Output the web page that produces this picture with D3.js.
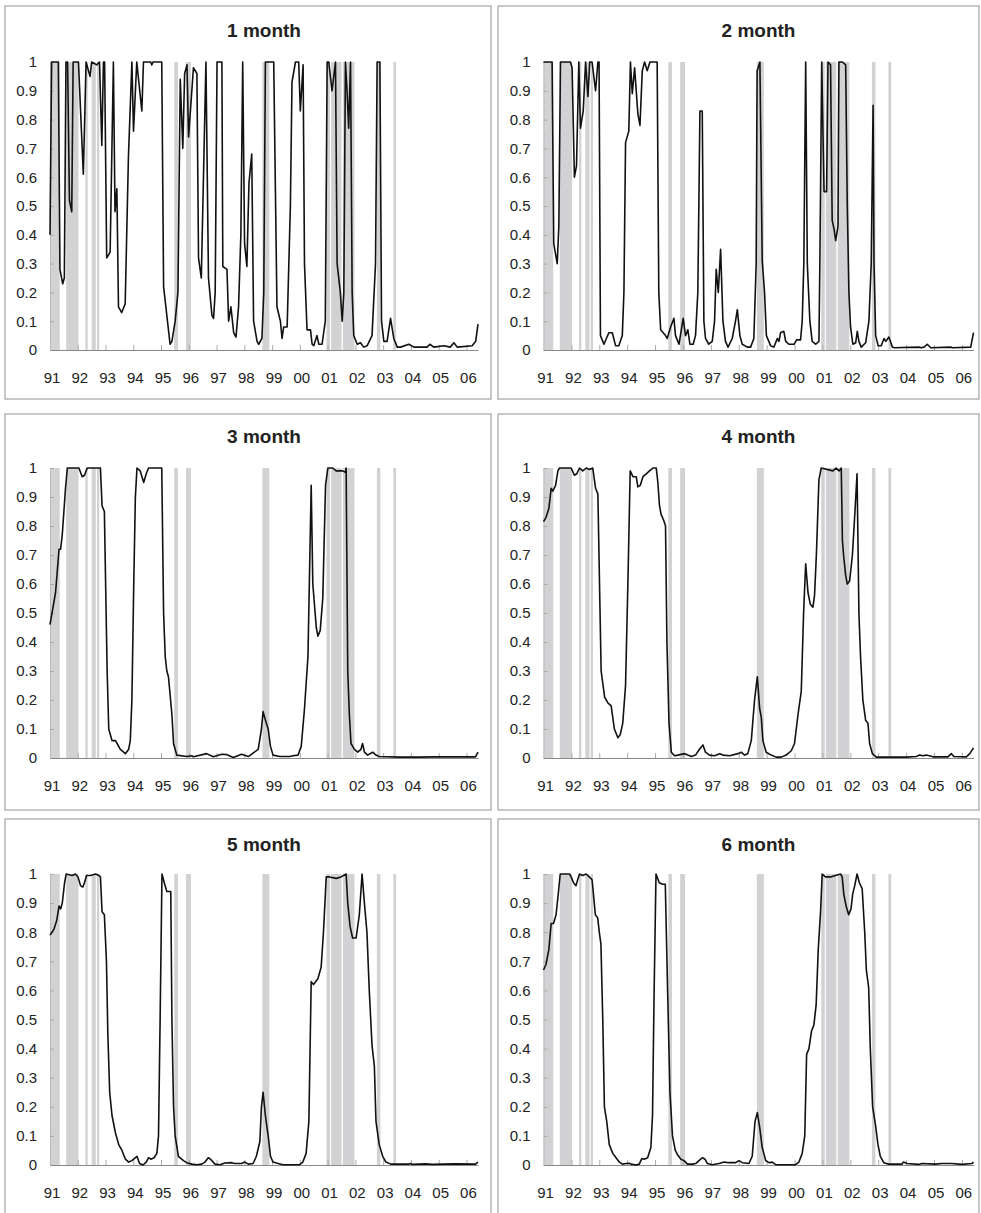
<!DOCTYPE html>
<html>
<head>
<meta charset="utf-8">
<script src="https://cdn.jsdelivr.net/npm/d3@7"></script>
<style>
  body { margin: 0; background: #fff; }
  text { font-family: "Liberation Sans", Arial, Helvetica, sans-serif; fill: #222; }
</style>
</head>
<body>
<div id="holder"></div>
<script>
// x axis: months since Jan 1991, labels one per year
var years = ["91","92","93","94","95","96","97","98","99","00","01","02","03","04","05","06"];
var nMonths = 186;
var yTicks = [0, 0.1, 0.2, 0.3, 0.4, 0.5, 0.6, 0.7, 0.8, 0.9, 1];

// shaded periods [start month, end month]
var bands = [[0,4.2],[7,12.3],[15.3,16.3],[18,19.8],[20.3,21.3],[53.7,55.3],[58.8,60.9],
             [91.8,94.8],[119.5,121],[121.5,126],[126.6,131.6],[141.3,142.8],[148.4,149.6]];

var titles = ["1 month", "2 month", "3 month", "4 month", "5 month", "6 month"];

// [month, probability]
var m1 = [[0,0.40],[0.7,1],[3.6,1],[4.3,0.28],[5.5,0.23],[6.2,0.25],[6.9,1],[7.6,1],[8.4,0.52],[9.4,0.48],[10,1],[12.3,1],[14.4,0.61],[15.6,1],[17.3,0.95],[18,1],[20.2,0.99],[21.4,1],[22.4,0.71],[23.1,1],[23.6,1],[24.5,0.32],[25.3,0.33],[26,0.34],[27.4,1],[28.1,0.48],[28.9,0.56],[29.6,0.15],[31,0.13],[32.5,0.16],[33.9,0.67],[35.4,1],[36.1,0.76],[37.5,1],[39.7,0.83],[40.4,1],[43.5,1],[44,0.99],[44.5,1],[48.3,1],[49.1,0.22],[51.9,0.02],[52.7,0.03],[54.1,0.1],[55.3,0.2],[56.3,0.94],[57.4,0.7],[58.2,0.96],[59.2,0.99],[59.9,0.74],[62,0.98],[63.5,0.96],[64.2,0.32],[65.4,0.25],[67.4,1],[68.5,0.25],[70,0.12],[70.7,0.11],[71.4,0.2],[72.2,1],[74.3,1],[74.7,0.29],[76.5,0.28],[77.2,0.1],[78.2,0.15],[79.4,0.06],[80.4,0.045],[81.5,0.15],[82.5,0.4],[83.3,1],[84.1,0.37],[85.1,0.29],[86,0.58],[87.2,0.68],[88,0.1],[89.5,0.03],[90.2,0.02],[91.6,0.04],[92.4,0.2],[93.1,1],[96.7,1],[98.1,0.15],[99.6,0.1],[100.3,0.04],[101,0.08],[102.5,0.08],[103.9,0.5],[104.6,0.93],[106.1,1],[107.5,1],[108.2,0.83],[109.4,0.99],[110,0.3],[111.1,0.07],[112.6,0.07],[113.3,0.02],[114,0.015],[115.4,0.05],[116.2,0.02],[117.6,0.02],[119,0.1],[119.8,1],[120.5,1],[121.9,0.9],[123.4,1],[124.1,0.3],[125.5,0.2],[126.3,0.1],[127,0.2],[127.7,1],[128.4,0.9],[129.1,0.77],[129.9,1],[130.6,0.2],[131.3,0.05],[132.8,0.02],[134.2,0.025],[135.6,0.01],[137.1,0.015],[139.2,0.05],[140.7,0.3],[141.4,1],[142.6,1],[143.3,0.1],[144.3,0.03],[145.7,0.03],[147.2,0.11],[148.6,0.04],[150.1,0.01],[151.5,0.01],[155.1,0.02],[157.3,0.01],[163,0.01],[164.2,0.02],[165.9,0.01],[170.3,0.015],[173,0.01],[174.6,0.025],[176,0.01],[182.5,0.015],[184,0.03],[185,0.09]];

var m2 = [[0,1],[3.7,1],[4.4,0.37],[5.9,0.3],[6.6,0.43],[7.3,1],[11.6,1],[12.3,0.98],[13.3,0.6],[14.2,0.64],[15.2,1],[15.9,0.77],[17.1,0.83],[18.1,1],[19.1,0.88],[19.9,1],[20.9,1],[22.4,0.9],[23.4,1],[23.9,1],[24.5,0.05],[26,0.02],[28.1,0.06],[29.6,0.06],[31,0.015],[32.4,0.015],[33.9,0.05],[34.6,0.2],[35.3,0.72],[36.7,0.76],[37.4,1],[38.2,0.89],[39.2,0.98],[40.6,0.82],[41.5,0.78],[42.5,0.97],[43.5,1],[44.6,0.97],[45.8,1],[48.9,1],[49.6,0.2],[50.4,0.07],[52.5,0.05],[53.2,0.04],[54.7,0.08],[56.1,0.11],[56.8,0.05],[58.3,0.02],[60.1,0.11],[61.1,0.05],[62.1,0.07],[63,0.02],[64.4,0.02],[65.4,0.05],[66.4,0.2],[67.3,0.83],[68.3,0.83],[69,0.1],[69.7,0.04],[71.1,0.02],[72.6,0.03],[73.6,0.1],[74.3,0.28],[75.2,0.2],[76.2,0.35],[77.2,0.1],[78.3,0.03],[79.4,0.01],[81.2,0.04],[82.6,0.1],[83.4,0.14],[84.5,0.05],[85.5,0.02],[87.7,0.01],[89.1,0.01],[90.5,0.04],[91.5,0.3],[91.9,0.97],[93.1,1],[94.1,0.31],[95.1,0.2],[95.9,0.05],[97.7,0.015],[99.1,0.01],[100.6,0.04],[101.3,0.03],[102,0.06],[103.4,0.065],[104.2,0.03],[105.6,0.02],[107.8,0.02],[108.9,0.035],[110.6,0.035],[111.3,0.1],[112,0.3],[112.8,1],[113.5,0.3],[114.6,0.1],[115.6,0.03],[117.1,0.02],[118.5,0.03],[118.9,0.3],[119.7,1],[120.7,0.55],[121.8,0.55],[122.4,1],[123.5,0.99],[124.2,0.45],[125,0.42],[125.7,0.38],[126.7,0.43],[127.1,1],[128.6,1],[130,0.99],[130.7,0.5],[131.4,0.2],[132.1,0.08],[133.1,0.02],[134.3,0.025],[135,0.065],[135.7,0.03],[136.7,0.01],[138.6,0.025],[140,0.1],[141,0.3],[141.8,0.85],[142.2,0.3],[142.9,0.05],[144,0.015],[145.3,0.015],[146.5,0.04],[147.3,0.03],[148.6,0.045],[150.1,0.01],[150.8,0.008],[161.5,0.01],[162.5,0.008],[163.7,0.01],[165.1,0.02],[166.6,0.008],[175.2,0.01],[176,0.008],[183.8,0.01],[185,0.06]];

var m3 = [[0,0.46],[2.4,0.57],[3.9,0.72],[4.6,0.72],[5.3,0.77],[6.7,0.93],[7.5,1],[12.5,1],[13.9,0.97],[14.9,0.975],[16.1,1],[21.8,1],[22.5,0.87],[23.5,0.85],[24.7,0.3],[25.4,0.1],[26.8,0.06],[28.3,0.06],[29,0.05],[30.4,0.03],[32.6,0.015],[34,0.03],[34.7,0.06],[35.4,0.2],[36.2,0.6],[36.9,0.9],[37.6,1],[39,0.99],[40.5,0.95],[41.6,0.98],[42.6,1],[48.3,1],[49.1,0.5],[49.8,0.35],[50.5,0.3],[51.2,0.28],[52.7,0.15],[53.4,0.05],[54.8,0.01],[59.1,0.005],[61.3,0.008],[62,0.004],[67.7,0.015],[70.6,0.004],[74.2,0.013],[76.3,0.012],[79.2,0.002],[82.8,0.013],[85.7,0.005],[90,0.03],[91.4,0.1],[92.1,0.16],[93.5,0.12],[94.3,0.1],[95.3,0.04],[96.4,0.01],[99.3,0.005],[103.6,0.005],[105,0.008],[107.2,0.01],[108.6,0.04],[110,0.17],[111.5,0.35],[112.9,0.94],[113.6,0.6],[115.1,0.45],[115.8,0.42],[116.8,0.44],[117.9,0.55],[119.1,0.94],[120.1,1],[122.2,1],[123.7,0.99],[126.5,0.99],[127.7,0.985],[128,1],[128.7,0.3],[129.4,0.15],[130.1,0.05],[131.6,0.03],[133,0.02],[134.4,0.03],[135.1,0.05],[135.9,0.02],[137.3,0.01],[139.5,0.02],[140.9,0.01],[142.3,0.005],[150.9,0.003],[159.5,0.003],[165.3,0.004],[183.9,0.004],[185,0.02]];

var m4 = [[0,0.815],[1.1,0.83],[2.3,0.86],[3.3,0.93],[4,0.92],[5.2,0.94],[6.2,0.99],[6.9,1],[11.9,1],[13.3,0.975],[14.3,0.98],[15.5,1],[16.9,0.99],[18.4,1],[19.8,0.995],[21.2,1],[22.4,0.93],[23.4,0.91],[24.1,0.6],[24.8,0.3],[26.3,0.21],[27.7,0.19],[29.1,0.18],[30.5,0.1],[32,0.07],[33,0.08],[34.1,0.12],[35.3,0.25],[36.3,0.6],[37.3,0.99],[38.5,0.97],[39.9,0.97],[40.6,0.935],[41.6,0.94],[42.8,0.97],[44.2,0.98],[45.6,0.99],[47.1,1],[48.5,1],[49.2,0.95],[49.9,0.87],[50.6,0.84],[51.7,0.82],[52.5,0.8],[53.1,0.4],[54,0.12],[55,0.02],[56.4,0.008],[57.8,0.01],[60.7,0.015],[62.1,0.01],[63.6,0.005],[65.4,0.01],[67.1,0.03],[68.6,0.045],[69.7,0.02],[71.4,0.01],[73.6,0.008],[75.8,0.015],[77.2,0.01],[80.1,0.008],[83.6,0.015],[85.1,0.02],[86.5,0.01],[87.9,0.015],[89.4,0.06],[90.8,0.2],[92,0.28],[93,0.17],[93.7,0.14],[94.4,0.06],[95.8,0.02],[98,0.01],[100.1,0.003],[102.3,0.003],[104.4,0.01],[106.6,0.025],[108,0.05],[109.5,0.15],[110.9,0.23],[111.9,0.5],[112.8,0.67],[113.8,0.57],[114.8,0.53],[115.9,0.52],[116.6,0.56],[117.4,0.7],[118.5,0.96],[119.5,1],[124.5,0.99],[125.9,1],[127.1,0.99],[128.1,1],[128.6,0.75],[129.1,0.7],[130,0.63],[130.7,0.6],[131.7,0.61],[132.9,0.7],[134,0.85],[134.9,0.98],[135.7,0.5],[136.4,0.35],[137.4,0.2],[138.6,0.13],[139.6,0.12],[140.3,0.05],[141.5,0.015],[143.2,0.003],[156.1,0.003],[160.4,0.005],[161.8,0.01],[163.3,0.008],[164.7,0.01],[167.6,0.004],[174,0.004],[175.5,0.015],[176.5,0.005],[181.9,0.004],[183.4,0.015],[185,0.035]];

var m5 = [[0,0.79],[1.7,0.81],[2.9,0.84],[3.9,0.89],[4.6,0.88],[5.3,0.9],[6.3,0.97],[7,1],[9.6,0.995],[11,1],[12.1,0.99],[13.2,0.96],[14.2,0.955],[14.9,0.97],[15.8,0.995],[17.5,0.995],[19.7,1],[21.1,0.995],[21.8,0.99],[22.5,0.87],[23.5,0.86],[24.4,0.7],[25,0.45],[25.8,0.25],[26.8,0.17],[28.3,0.11],[29.7,0.07],[31.1,0.05],[32.6,0.02],[34,0.01],[35.4,0.015],[36.9,0.025],[37.6,0.03],[38.7,0.005],[40.2,0],[41.6,0.01],[42.6,0.025],[43.6,0.02],[45,0.025],[46.2,0.04],[46.9,0.1],[47.6,0.5],[48.4,1],[49.4,0.97],[50.5,0.94],[52.2,0.94],[52.7,0.5],[53.4,0.2],[54.1,0.1],[55.5,0.03],[57.7,0.015],[59.1,0.008],[61.3,0.003],[63.4,0.001],[65.6,0.003],[67,0.01],[68.4,0.025],[69.4,0.02],[71.3,0.003],[73.5,0.001],[75.6,0.007],[78.5,0.008],[79.9,0.005],[82.8,0.005],[84.2,0.01],[85.7,0.003],[87.8,0.005],[89.2,0.03],[90.7,0.08],[91.4,0.2],[92.1,0.25],[93.1,0.17],[94.3,0.1],[95.3,0.03],[96.4,0.01],[98.6,0.005],[100.7,0.001],[107.9,0.001],[109.3,0.01],[110.7,0.04],[111.9,0.15],[112.9,0.63],[113.9,0.62],[115.8,0.64],[117.2,0.68],[118.2,0.8],[119.4,0.99],[120.8,0.99],[123.7,0.985],[125.8,0.99],[128,1],[128.7,0.9],[129.7,0.82],[130.8,0.78],[132.3,0.78],[133.7,0.86],[134.9,1],[135.9,0.9],[137,0.8],[138,0.6],[139.2,0.41],[140.2,0.34],[140.9,0.15],[142.3,0.07],[143.8,0.03],[145.2,0.01],[147.3,0.003],[155.2,0.003],[155.8,0.005],[156.6,0.002],[162.3,0.004],[165.3,0.002],[174.6,0.004],[183.9,0.003],[185,0.01]];

var m6 = [[0,0.67],[1.1,0.69],[2.3,0.74],[3.3,0.83],[4.3,0.83],[5.4,0.86],[6.2,0.92],[7.2,1],[11.2,1],[11.9,0.99],[12.9,0.97],[14,0.96],[14.7,0.98],[15.5,1],[16.9,0.995],[18.3,1],[19.7,0.99],[20.9,0.98],[21.5,0.93],[22.3,0.86],[23.3,0.85],[24,0.8],[24.7,0.76],[25.5,0.5],[26.2,0.2],[27.2,0.15],[28.3,0.07],[29.8,0.04],[31.2,0.025],[32.6,0.01],[34,0.003],[35.5,0.005],[36.9,0.006],[37.6,0.003],[39.8,0],[41.2,0.003],[42.3,0.022],[43.3,0.02],[44.8,0.025],[46.2,0.06],[46.9,0.17],[47.6,0.6],[48.4,1],[49.8,0.97],[51.2,0.965],[52.4,0.965],[53.4,0.6],[54.4,0.25],[55.5,0.1],[56.7,0.05],[57.7,0.035],[59.1,0.02],[60.5,0.015],[61.9,0.003],[64.1,0.003],[65.5,0.005],[66.9,0.015],[68.4,0.025],[69.5,0.02],[70.5,0.005],[72.7,0.001],[75.5,0.005],[77.7,0.01],[79.8,0.008],[82.7,0.008],[84.1,0.015],[85.6,0.008],[88.4,0.005],[89.8,0.03],[91,0.15],[92,0.18],[93,0.13],[94.1,0.06],[95.6,0.015],[97,0.008],[98.4,0.01],[99.9,0.001],[108.4,0.001],[109.9,0.01],[111.3,0.04],[112.4,0.1],[113.2,0.38],[114.2,0.4],[115.3,0.46],[116.3,0.48],[117.3,0.55],[118.2,0.74],[119.2,0.87],[119.9,1],[121.3,0.99],[123.5,0.99],[125.6,0.995],[127.8,1],[128.5,0.99],[129.2,0.93],[130.2,0.89],[131.3,0.86],[132.3,0.88],[133,0.93],[133.9,0.96],[134.9,1],[135.9,0.97],[137.1,0.95],[138.2,0.8],[138.9,0.67],[139.9,0.61],[140.6,0.4],[141.6,0.2],[142.8,0.14],[143.9,0.07],[144.9,0.03],[146.4,0.008],[148.5,0.003],[154.2,0.003],[154.9,0.01],[156.4,0.005],[161.4,0.002],[162.8,0.005],[168.5,0.003],[171.4,0.005],[175.7,0.005],[180,0.002],[184.3,0.005],[185,0.01]];

var series = [m1, m2, m3, m4, m5, m6];

// panel geometry (2 columns x 3 rows)
var cols = [
  {boxX: 5,   boxW: 486, plotX: 50,    plotW: 428},
  {boxX: 498, boxW: 481, plotX: 543.5, plotW: 430}
];
var rows = [
  {boxY: 6,   boxH: 393, plotY: 62,  plotH: 288, titleY: 37},
  {boxY: 414, boxH: 396, plotY: 468, plotH: 290, titleY: 443},
  {boxY: 819, boxH: 420, plotY: 874, plotH: 291, titleY: 851}
];

var svg = d3.select("#holder")
            .append("svg")
            .attr("width", 981)
            .attr("height", 1213);

svg.append("rect").attr("width", 981).attr("height", 1213).attr("fill", "#fff");

series.forEach(function(data, i) {
  var c = cols[i % 2], r = rows[Math.floor(i / 2)];

  // panel frame
  svg.append("rect")
     .attr("x", c.boxX).attr("y", r.boxY)
     .attr("width", c.boxW).attr("height", r.boxH)
     .attr("fill", "none")
     .attr("stroke", "#aaa")
     .attr("stroke-width", 1.3);

  var x = d3.scaleLinear().domain([0, nMonths - 1]).range([c.plotX, c.plotX + c.plotW]);
  var y = d3.scaleLinear().domain([0, 1]).range([r.plotY + r.plotH, r.plotY]);

  var g = svg.append("g");

  // title
  g.append("text")
   .attr("x", c.plotX + c.plotW / 2)
   .attr("y", r.titleY)
   .attr("text-anchor", "middle")
   .style("font-size", "19px")
   .style("font-weight", "bold")
   .text(titles[i]);

  // shaded periods
  g.append("g")
   .selectAll("rect")
   .data(bands)
   .enter()
   .append("rect")
   .attr("x", d => x(d[0]))
   .attr("width", d => x(d[1]) - x(d[0]))
   .attr("y", y(1))
   .attr("height", y(0) - y(1))
   .attr("fill", "#d2d2d4");

  // y axis
  var yAxis = d3.axisLeft(y)
                .tickValues(yTicks)
                .tickSize(-4)
                .tickPadding(13)
                .tickFormat(d => d === 0 ? "0" : d === 1 ? "1" : d.toFixed(1));
  var ya = g.append("g")
            .attr("transform", "translate(" + c.plotX + ",0)")
            .call(yAxis);
  ya.select(".domain").attr("stroke", "#bbb");
  ya.selectAll(".tick line").attr("stroke", "#aaa");
  ya.selectAll(".tick text")
    .style("font-size", "15px")
    .style("font-family", "'Liberation Sans', Arial, sans-serif")
    .attr("fill", "#222");

  // x axis: ticks at each new year, labels next to them
  var xAxis = d3.axisBottom(x)
                .tickValues(d3.range(12, nMonths, 12))
                .tickSize(-5)
                .tickSizeOuter(0)
                .tickFormat("");
  var xa = g.append("g")
            .attr("transform", "translate(0," + y(0) + ")")
            .call(xAxis);
  xa.select(".domain").attr("stroke", "#888").attr("stroke-width", 1.2);
  xa.selectAll(".tick line").attr("stroke", "#aaa");

  g.append("g")
   .selectAll("text")
   .data(years)
   .enter()
   .append("text")
   .attr("x", (d, k) => x(k * 12) + 2)
   .attr("y", y(0) + 33)
   .attr("text-anchor", "middle")
   .style("font-size", "15px")
   .text(d => d);

  // probability line
  var line = d3.line()
               .x(d => x(d[0]))
               .y(d => y(d[1]));

  g.append("path")
   .datum(data)
   .attr("d", line)
   .attr("fill", "none")
   .attr("stroke", "#111")
   .attr("stroke-width", 1.6)
   .attr("stroke-linejoin", "round");
});
</script>
</body>
</html>
